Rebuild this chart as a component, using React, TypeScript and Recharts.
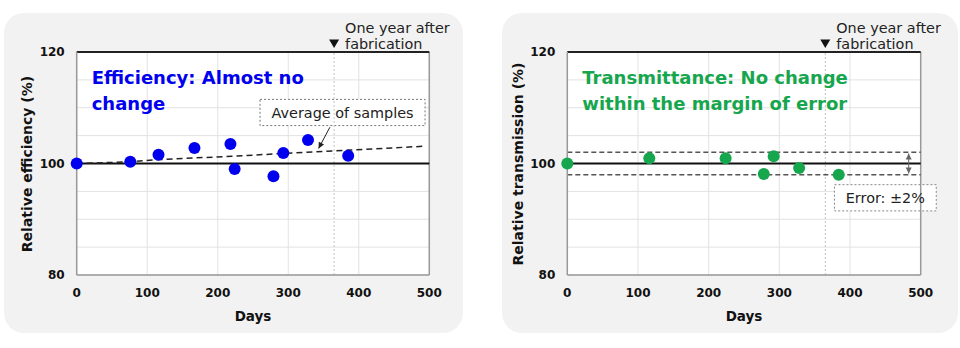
import React from "react";
import {
  ComposedChart,
  Scatter,
  Line,
  XAxis,
  YAxis,
  CartesianGrid,
  ReferenceLine,
  ReferenceArea,
  Label,
} from "recharts";

/* ─── Data ──────────────────────────────────────────────────── */

const dayTicks = [0, 100, 200, 300, 400, 500];
const pctTicks = [80, 85, 90, 95, 100, 105, 110, 115, 120];
const oneYear = 365;

const efficiencyDays = [0, 76, 116, 167, 218, 224, 279, 293, 328, 385];
const efficiencyValues = [100, 100.3, 101.55, 102.8, 103.5, 99.0, 97.7, 101.9, 104.2, 101.4];

// fitted average of the samples (dashed)
const averageDays = [0, 76, 116, 220, 293, 385, 494];
const averageValues = [100, 100.3, 100.7, 101.3, 101.8, 102.4, 103.1];

const transmissionDays = [0, 116, 224, 278, 292, 328, 384];
const transmissionValues = [100, 100.95, 100.95, 98.1, 101.3, 99.2, 98.0];

const errorBand = [98, 102];

const efficiencyData = efficiencyDays.map((d, i) => ({ day: d, value: efficiencyValues[i] }));
const averageData = averageDays.map((d, i) => ({ day: d, value: averageValues[i] }));
const transmissionData = transmissionDays.map((d, i) => ({ day: d, value: transmissionValues[i] }));

/* ─── Styles ────────────────────────────────────────────────── */

const FONT = "'DejaVu Sans', Verdana, sans-serif";
const BLUE = "#0000ee";
const GREEN = "#16a64d";

/* ─── Helpers ───────────────────────────────────────────────── */

function head(tx: number, ty: number, fx: number, fy: number) {
  const a = Math.atan2(ty - fy, tx - fx);
  const l = 6;
  const w = 3;
  const bx = tx - l * Math.cos(a);
  const by = ty - l * Math.sin(a);
  return `${tx},${ty} ${bx + w * Math.sin(a)},${by - w * Math.cos(a)} ${bx - w * Math.sin(a)},${by + w * Math.cos(a)}`;
}

function arrowShape(color: string, both: boolean) {
  return (p: any) => (
    <g>
      <line x1={p.x1} y1={p.y1} x2={p.x2} y2={p.y2} stroke={color} strokeWidth={1} />
      <polygon points={head(p.x2, p.y2, p.x1, p.y1)} fill={color} />
      {both && <polygon points={head(p.x1, p.y1, p.x2, p.y2)} fill={color} />}
    </g>
  );
}

const oneYearLabel = (p: any) => {
  const x = p.viewBox.x;
  const y = p.viewBox.y;
  return (
    <g fontFamily={FONT} fontSize={14.4} fill="#222">
      <polygon points={`${x - 5},${y - 12.5} ${x + 5},${y - 12.5} ${x},${y - 4}`} fill="#111" />
      <text x={x + 11} y={y - 19.4}>One year after</text>
      <text x={x + 11} y={y - 2.8}>fabrication</text>
    </g>
  );
};

const dot = (color: string) => (p: any) => <circle cx={p.cx} cy={p.cy} r={6} fill={color} />;

/* ─── Panel ─────────────────────────────────────────────────── */

interface PanelProps {
  left: number;
  bgLeft: number;
  bgWidth: number;
  plotLeft: number;
  plotRight: number;
  yLabel: string;
  yLabelX: number;
  title: string[];
  titleColor: string;
  children: React.ReactNode;
}

function Panel({ left, bgLeft, bgWidth, plotLeft, plotRight, yLabel, yLabelX, title, titleColor, children }: PanelProps) {
  return (
    <div style={{ position: "absolute", left, top: 0, width: 480, height: 348 }}>
      <div
        style={{
          position: "absolute",
          left: bgLeft,
          top: 13,
          width: bgWidth,
          height: 320,
          background: "#f2f2f2",
          borderRadius: 20,
        }}
      />
      <div style={{ position: "absolute", left: 0, top: 0 }}>
        <ComposedChart
          width={480}
          height={348}
          margin={{ top: 52, right: 480 - plotRight, bottom: 43, left: plotLeft - 40 }}
        >
          <CartesianGrid stroke="#e2e2e2" fill="#fff" />
          <XAxis
            type="number"
            dataKey="day"
            domain={[0, 500]}
            ticks={dayTicks}
            height={30}
            tickSize={0}
            tickMargin={13}
            axisLine={{ stroke: "#999", strokeWidth: 1.5 }}
            tick={{ fill: "#111", fontSize: 12, fontWeight: 700, fontFamily: FONT }}
          >
            <Label
              value="Days"
              position="bottom"
              offset={6}
              fill="#111"
              fontSize={13.5}
              fontWeight={700}
              fontFamily={FONT}
            />
          </XAxis>
          <YAxis
            type="number"
            dataKey="value"
            domain={[80, 120]}
            ticks={pctTicks}
            width={40}
            tickSize={0}
            tickMargin={12}
            axisLine={{ stroke: "#999", strokeWidth: 1.5 }}
            tickFormatter={(v: number) => (v % 20 === 0 ? String(v) : "")}
            tick={{ fill: "#111", fontSize: 12, fontWeight: 700, fontFamily: FONT }}
          >
            <Label
              content={() => (
                <text
                  x={yLabelX}
                  y={164}
                  transform={`rotate(-90, ${yLabelX}, 164)`}
                  textAnchor="middle"
                  dominantBaseline="central"
                  fill="#111"
                  fontSize={14}
                  fontWeight={700}
                  fontFamily={FONT}
                >
                  {yLabel}
                </text>
              )}
            />
          </YAxis>
          <ReferenceLine x={500} stroke="#999" strokeWidth={1.5} />
          <ReferenceLine y={120} stroke="#222" strokeWidth={2} />
          <ReferenceLine
            x={oneYear}
            stroke="#c4c4c4"
            strokeDasharray="2 2"
            label={oneYearLabel}
          />
          <ReferenceLine y={100} stroke="#111" strokeWidth={2} />
          {children}
        </ComposedChart>
      </div>
      <div
        style={{
          position: "absolute",
          left: plotLeft + 15,
          top: 65,
          fontFamily: FONT,
          fontWeight: 700,
          fontSize: 18,
          lineHeight: "26px",
          color: titleColor,
          whiteSpace: "nowrap",
        }}
      >
        {title.map((t) => (
          <div key={t}>{t}</div>
        ))}
      </div>
    </div>
  );
}

/* ─── App ───────────────────────────────────────────────────── */

export default function App() {
  return (
    <div style={{ position: "absolute", left: 0, top: 0, width: 960, height: 348, background: "#fff" }}>
      <Panel
        left={0}
        bgLeft={4}
        bgWidth={459}
        plotLeft={76.7}
        plotRight={429.3}
        yLabel="Relative efficiency (%)"
        yLabelX={27}
        title={["Efficiency: Almost no", "change"]}
        titleColor={BLUE}
      >
        <ReferenceArea
          x1={260}
          x2={494}
          y1={106.8}
          y2={111.5}
          fill="#fff"
          fillOpacity={1}
          stroke="#777"
          strokeDasharray="2 2"
          label={{
            value: "Average of samples",
            position: "center",
            fill: "#222",
            fontSize: 14.4,
            fontFamily: FONT,
          }}
        />
        <ReferenceLine
          segment={[
            { x: 359, y: 106.5 },
            { x: 343, y: 102.7 },
          ]}
          shape={arrowShape("#222", false)}
        />
        <Line
          data={averageData}
          dataKey="value"
          type="linear"
          stroke="#222"
          strokeWidth={1.5}
          strokeDasharray="6 4"
          dot={false}
          isAnimationActive={false}
        />
        <Scatter data={efficiencyData} fill={BLUE} shape={dot(BLUE)} isAnimationActive={false} />
      </Panel>
      <Panel
        left={480}
        bgLeft={22}
        bgWidth={456}
        plotLeft={87.3}
        plotRight={440.7}
        yLabel="Relative transmission (%)"
        yLabelX={38.3}
        title={["Transmittance: No change", "within the margin of error"]}
        titleColor={GREEN}
      >
        {errorBand.map((v) => (
          <ReferenceLine key={v} y={v} stroke="#555" strokeWidth={1.5} strokeDasharray="5 3" />
        ))}
        <ReferenceLine
          segment={[
            { x: 483, y: errorBand[1] - 0.2 },
            { x: 483, y: errorBand[0] + 0.2 },
          ]}
          shape={arrowShape("#666", true)}
        />
        <ReferenceArea
          x1={378}
          x2={522}
          y1={91.5}
          y2={96.2}
          ifOverflow="visible"
          fill="#fff"
          fillOpacity={1}
          stroke="#888"
          strokeDasharray="2 2"
          label={{
            value: "Error: \u00b12%",
            position: "center",
            fill: "#222",
            fontSize: 14.4,
            fontFamily: FONT,
          }}
        />
        <Scatter data={transmissionData} fill={GREEN} shape={dot(GREEN)} isAnimationActive={false} />
      </Panel>
    </div>
  );
}
